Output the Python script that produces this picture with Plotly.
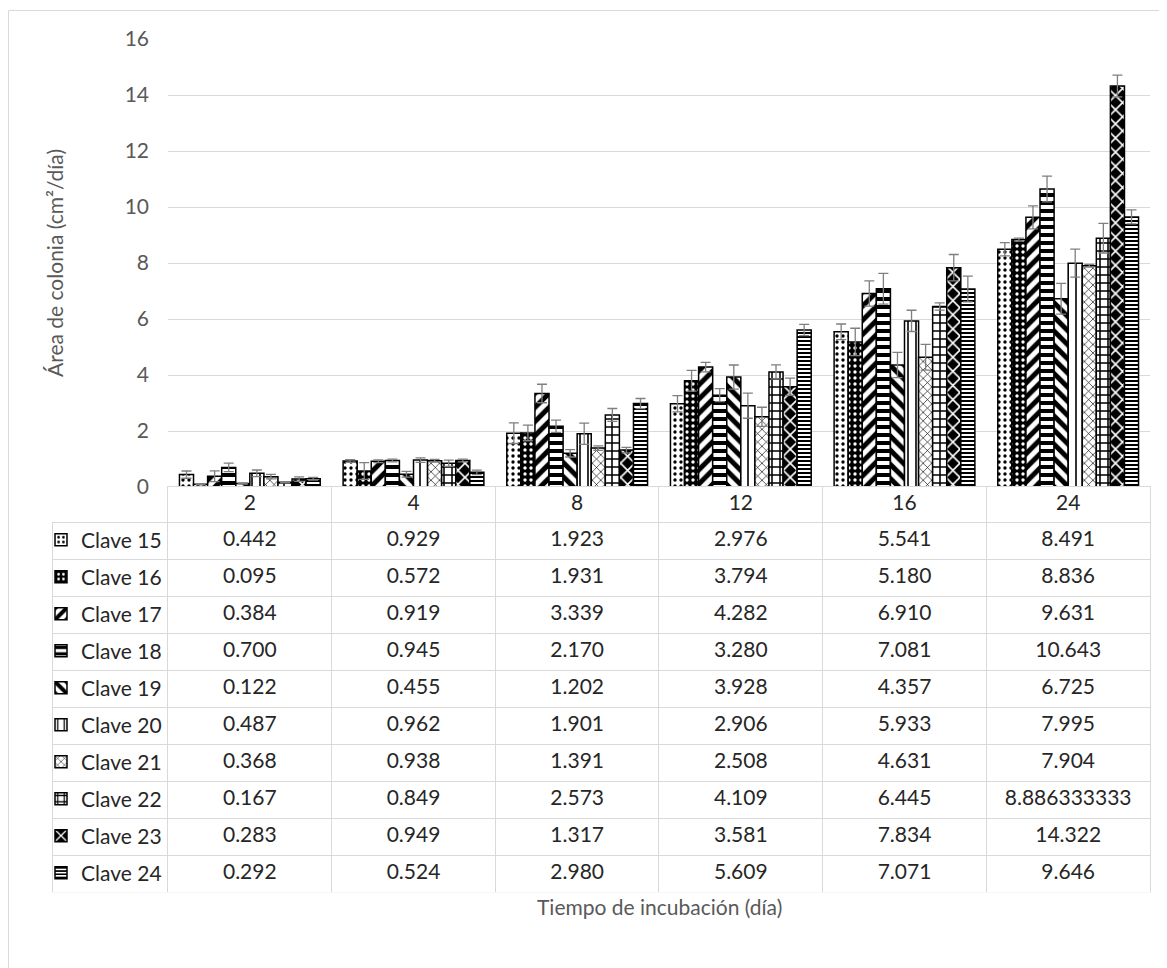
import plotly.graph_objects as go

# incubation days (categories)
dias = ["2", "4", "8", "12", "16", "24"]

claves = ["Clave 15", "Clave 16", "Clave 17", "Clave 18", "Clave 19",
          "Clave 20", "Clave 21", "Clave 22", "Clave 23", "Clave 24"]

# colony area per strain (cm2/dia)
clave_15 = [0.442, 0.929, 1.923, 2.976, 5.541, 8.491]
clave_16 = [0.095, 0.572, 1.931, 3.794, 5.180, 8.836]
clave_17 = [0.384, 0.919, 3.339, 4.282, 6.910, 9.631]
clave_18 = [0.700, 0.945, 2.170, 3.280, 7.081, 10.643]
clave_19 = [0.122, 0.455, 1.202, 3.928, 4.357, 6.725]
clave_20 = [0.487, 0.962, 1.901, 2.906, 5.933, 7.995]
clave_21 = [0.368, 0.938, 1.391, 2.508, 4.631, 7.904]
clave_22 = [0.167, 0.849, 2.573, 4.109, 6.445, 8.886333333]
clave_23 = [0.283, 0.949, 1.317, 3.581, 7.834, 14.322]
clave_24 = [0.292, 0.524, 2.980, 5.609, 7.071, 9.646]

# error bars
err_15 = [0.13, 0.05, 0.37, 0.29, 0.28, 0.24]
err_16 = [0.02, 0.30, 0.28, 0.37, 0.49, 0.05]
err_17 = [0.19, 0.05, 0.33, 0.17, 0.45, 0.41]
err_18 = [0.15, 0.05, 0.22, 0.23, 0.55, 0.46]
err_19 = [0.02, 0.10, 0.13, 0.43, 0.45, 0.55]
err_20 = [0.12, 0.08, 0.38, 0.45, 0.38, 0.50]
err_21 = [0.08, 0.05, 0.08, 0.34, 0.46, 0.05]
err_22 = [0.02, 0.11, 0.23, 0.25, 0.13, 0.53]
err_23 = [0.08, 0.05, 0.10, 0.31, 0.47, 0.39]
err_24 = [0.05, 0.08, 0.18, 0.20, 0.46, 0.25]

valores = [clave_15, clave_16, clave_17, clave_18, clave_19,
           clave_20, clave_21, clave_22, clave_23, clave_24]
errores = [err_15, err_16, err_17, err_18, err_19,
           err_20, err_21, err_22, err_23, err_24]

# (background, foreground, shape, size, solidity) to mimic Excel hatch fills
patrones = [
    ("white", "black", ".", 6, 0.25),
    ("black", "white", ".", 6, 0.25),
    ("white", "black", "/", 10, 0.5),
    ("white", "black", "-", 8, 0.5),
    ("white", "black", "\\", 10, 0.5),
    ("white", "black", "|", 8, 0.2),
    ("white", "black", "x", 6, 0.2),
    ("white", "black", "+", 8, 0.35),
    ("black", "white", "x", 10, 0.3),
    ("white", "black", "-", 4, 0.5),
]

FONT = "Lato"
OFF = 8  # page body margin
W, H = 1159, 960
ML, MR, MT, MB = 52 - OFF, 17, 39 - OFF, 75
pw, ph = W - ML - MR, H - MT - MB


# helpers: reference-picture pixels -> paper coordinates
def px_x(p):
    return (p - OFF - ML) / pw


def px_y(p):
    return (H - MB - (p - OFF)) / ph


fig = go.Figure()

for i, nombre in enumerate(claves):
    bg, fg, shape, size, sol = patrones[i]
    fig.add_trace(go.Bar(
        x=dias, y=valores[i], name=nombre, legendgroup=nombre,
        marker=dict(color=bg, line=dict(color="black", width=1.5),
                    pattern=dict(shape=shape, fgcolor=fg, bgcolor=bg,
                                 size=size, solidity=sol, fillmode="overlay",
                                 fgopacity=1)),
        error_y=dict(type="data", array=errores[i], color="#7f7f7f",
                     thickness=1.3, width=5),
    ))


def fmt(v):
    return f"{v:.3f}" if round(v, 3) == v else str(v)


celdas = [[""] * len(claves)]
for j in range(len(dias)):
    celdas.append([fmt(valores[i][j]) for i in range(len(claves))])

fig.add_trace(go.Table(
    domain=dict(x=[0, 1], y=[0, px_y(487) + 0.001]),
    columnwidth=[116] + [163.7] * len(dias),
    header=dict(values=[""] + dias, height=36,
                fill_color=["rgba(0,0,0,0)"] + ["white"] * len(dias),
                line=dict(color=["rgba(0,0,0,0)"] + ["#d9d9d9"] * len(dias), width=1),
                font=dict(family=FONT, size=21, color="#262626"), align="center"),
    cells=dict(values=celdas, height=37, fill_color="white",
               line=dict(color="#d9d9d9", width=1),
               font=dict(family=FONT, size=21, color="#262626"), align="center"),
))

fig.update_layout(
    width=W, height=H,
    margin=dict(l=ML, r=MR, t=MT, b=MB),
    paper_bgcolor="white", plot_bgcolor="white",
    barmode="group", bargap=0.14, bargroupgap=0,
    font=dict(family=FONT, size=21, color="#595959"),
    legend=dict(x=px_x(41), y=px_y(519.5), xanchor="left", yanchor="top",
                tracegroupgap=6.7, bgcolor="rgba(0,0,0,0)",
                font=dict(family=FONT, size=21, color="#262626")),
    xaxis=dict(domain=[px_x(168), 1], type="category", showticklabels=False,
               showgrid=False, zeroline=False, showline=False),
    yaxis=dict(domain=[px_y(487), 1], range=[0, 16], dtick=2,
               showgrid=True, gridcolor="#d9d9d9", gridwidth=1,
               zeroline=False, showline=False, ticklabelstandoff=18,
               tickfont=dict(size=21, color="#595959"),
               title=dict(text="Área de colonia (cm²/día)", standoff=55,
                          font=dict(size=21, color="#595959"))),
    annotations=[dict(text="Tiempo de incubación (día)", xref="x domain", yref="paper",
                      x=0.5, y=px_y(921), showarrow=False,
                      font=dict(family=FONT, size=21, color="#595959"))],
    shapes=[dict(type="rect", xref="paper", yref="paper",
                 x0=px_x(8.5), x1=px_x(1180), y0=px_y(985), y1=px_y(10.5),
                 line=dict(color="#d9d9d9", width=1), fillcolor="rgba(0,0,0,0)",
                 layer="below")],
)

fig.write_html("out.html")
